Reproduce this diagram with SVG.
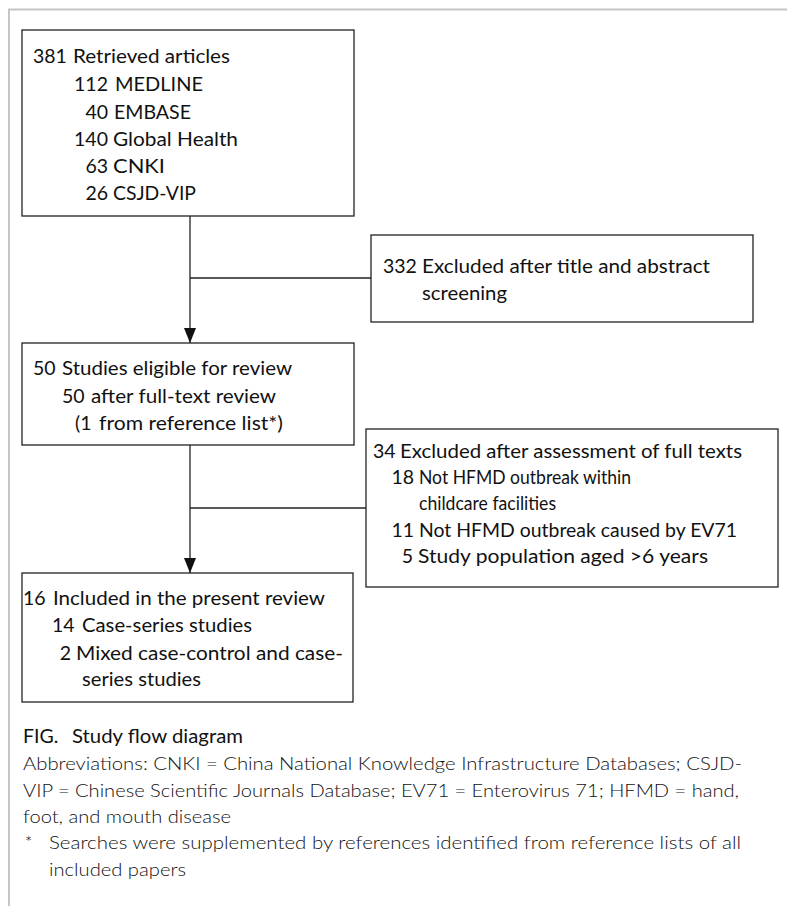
<svg xmlns="http://www.w3.org/2000/svg" width="787" height="906" viewBox="0 0 787 906">
<style>
.frame{fill:none;stroke:#c6c6c6;stroke-width:2}
.box{fill:#fff;stroke:#222;stroke-width:1.3}
.t{font-family:Lato,"Open Sans","Liberation Sans",sans-serif;font-size:19.5px;fill:#111}
.n{font-family:Lato,"Open Sans","Liberation Sans",sans-serif;font-size:19.5px;fill:#111;text-anchor:end}
.c{font-family:Lato,"Open Sans","Liberation Sans",sans-serif;font-size:17px;font-weight:300;fill:#111}
.conn{fill:none;stroke:#222;stroke-width:1.3}
</style>
<defs>
<marker id="arr" markerUnits="userSpaceOnUse" markerWidth="16" markerHeight="12" refX="15" refY="6" orient="auto">
<path d="M0,0 L15,6 L0,12 z" fill="#111"/>
</marker>
</defs>
<rect width="787" height="906" fill="#fff"/>
<path class="frame" d="M9,906 V9.5 H787"/>
<g id="connectors">
<path class="conn" d="M190,216 V343" marker-end="url(#arr)"/>
<path class="conn" d="M190,278 H371"/>
<path class="conn" d="M190,445 V573" marker-end="url(#arr)"/>
<path class="conn" d="M190,508 H366"/>
</g>
<g id="retrieved">
<rect class="box" x="22" y="30" width="332" height="186"/>
<text class="t" x="33" y="63">381</text>
<text class="t" x="73" y="63" textLength="157" lengthAdjust="spacingAndGlyphs">Retrieved articles</text>
<text class="n" x="108" y="91">112</text>
<text class="t" x="115" y="91" textLength="88" lengthAdjust="spacingAndGlyphs">MEDLINE</text>
<text class="n" x="108" y="119">40</text>
<text class="t" x="114" y="119" textLength="77" lengthAdjust="spacingAndGlyphs">EMBASE</text>
<text class="n" x="108" y="146">140</text>
<text class="t" x="113" y="146" textLength="125" lengthAdjust="spacingAndGlyphs">Global Health</text>
<text class="n" x="108" y="173">63</text>
<text class="t" x="113" y="173" textLength="52" lengthAdjust="spacingAndGlyphs">CNKI</text>
<text class="n" x="108" y="200">26</text>
<text class="t" x="113" y="200" textLength="83" lengthAdjust="spacingAndGlyphs">CSJD-VIP</text>
</g>
<g id="excluded1">
<rect class="box" x="371" y="235" width="382" height="87"/>
<text class="t" x="383" y="273">332</text>
<text class="t" x="422" y="273" textLength="288" lengthAdjust="spacingAndGlyphs">Excluded after title and abstract</text>
<text class="t" x="422" y="300" textLength="85" lengthAdjust="spacingAndGlyphs">screening</text>
</g>
<g id="eligible">
<rect class="box" x="22" y="343" width="332" height="102"/>
<text class="t" x="33" y="375">50</text>
<text class="t" x="62" y="375" textLength="230" lengthAdjust="spacingAndGlyphs">Studies eligible for review</text>
<text class="t" x="62" y="403">50</text>
<text class="t" x="91" y="403" textLength="185" lengthAdjust="spacingAndGlyphs">after full-text review</text>
<text class="t" x="75" y="430">(1</text>
<text class="t" x="99" y="430" textLength="184" lengthAdjust="spacingAndGlyphs">from reference list*)</text>
</g>
<g id="excluded2">
<rect class="box" x="366" y="429" width="412" height="158"/>
<text class="t" x="373" y="458">34</text>
<text class="t" x="400" y="458" textLength="342" lengthAdjust="spacingAndGlyphs">Excluded after assessment of full texts</text>
<text class="n" x="414" y="484">18</text>
<text class="t" x="419" y="484" textLength="212" lengthAdjust="spacingAndGlyphs">Not HFMD outbreak within</text>
<text class="t" x="419" y="510" textLength="137" lengthAdjust="spacingAndGlyphs">childcare facilities</text>
<text class="n" x="414" y="537">11</text>
<text class="t" x="419" y="537" textLength="318" lengthAdjust="spacingAndGlyphs">Not HFMD outbreak caused by EV71</text>
<text class="n" x="413" y="563">5</text>
<text class="t" x="418" y="563" textLength="290" lengthAdjust="spacingAndGlyphs">Study population aged &gt;6 years</text>
</g>
<g id="included">
<rect class="box" x="22" y="573" width="331" height="129"/>
<text class="t" x="23" y="605">16</text>
<text class="t" x="53" y="605" textLength="272" lengthAdjust="spacingAndGlyphs">Included in the present review</text>
<text class="t" x="52" y="632">14</text>
<text class="t" x="82" y="632" textLength="170" lengthAdjust="spacingAndGlyphs">Case-series studies</text>
<text class="n" x="71" y="660">2</text>
<text class="t" x="76" y="660" textLength="267" lengthAdjust="spacingAndGlyphs">Mixed case-control and case-</text>
<text class="t" x="82" y="686" textLength="119" lengthAdjust="spacingAndGlyphs">series studies</text>
</g>
<g id="caption">
<text class="t" x="23" y="743">FIG.</text>
<text class="t" x="72" y="743" textLength="171" lengthAdjust="spacingAndGlyphs">Study flow diagram</text>
<text class="c" x="23" y="770" textLength="719" lengthAdjust="spacingAndGlyphs">Abbreviations: CNKI = China National Knowledge Infrastructure Databases; CSJD-</text>
<text class="c" x="23" y="797" textLength="716" lengthAdjust="spacingAndGlyphs">VIP = Chinese Scientific Journals Database; EV71 = Enterovirus 71; HFMD = hand,</text>
<text class="c" x="23" y="823" textLength="208" lengthAdjust="spacingAndGlyphs">foot, and mouth disease</text>
<text class="c" x="25" y="849">*</text>
<text class="c" x="49" y="849" textLength="692" lengthAdjust="spacingAndGlyphs">Searches were supplemented by references identified from reference lists of all</text>
<text class="c" x="49" y="876" textLength="137" lengthAdjust="spacingAndGlyphs">included papers</text>
</g>
</svg>
